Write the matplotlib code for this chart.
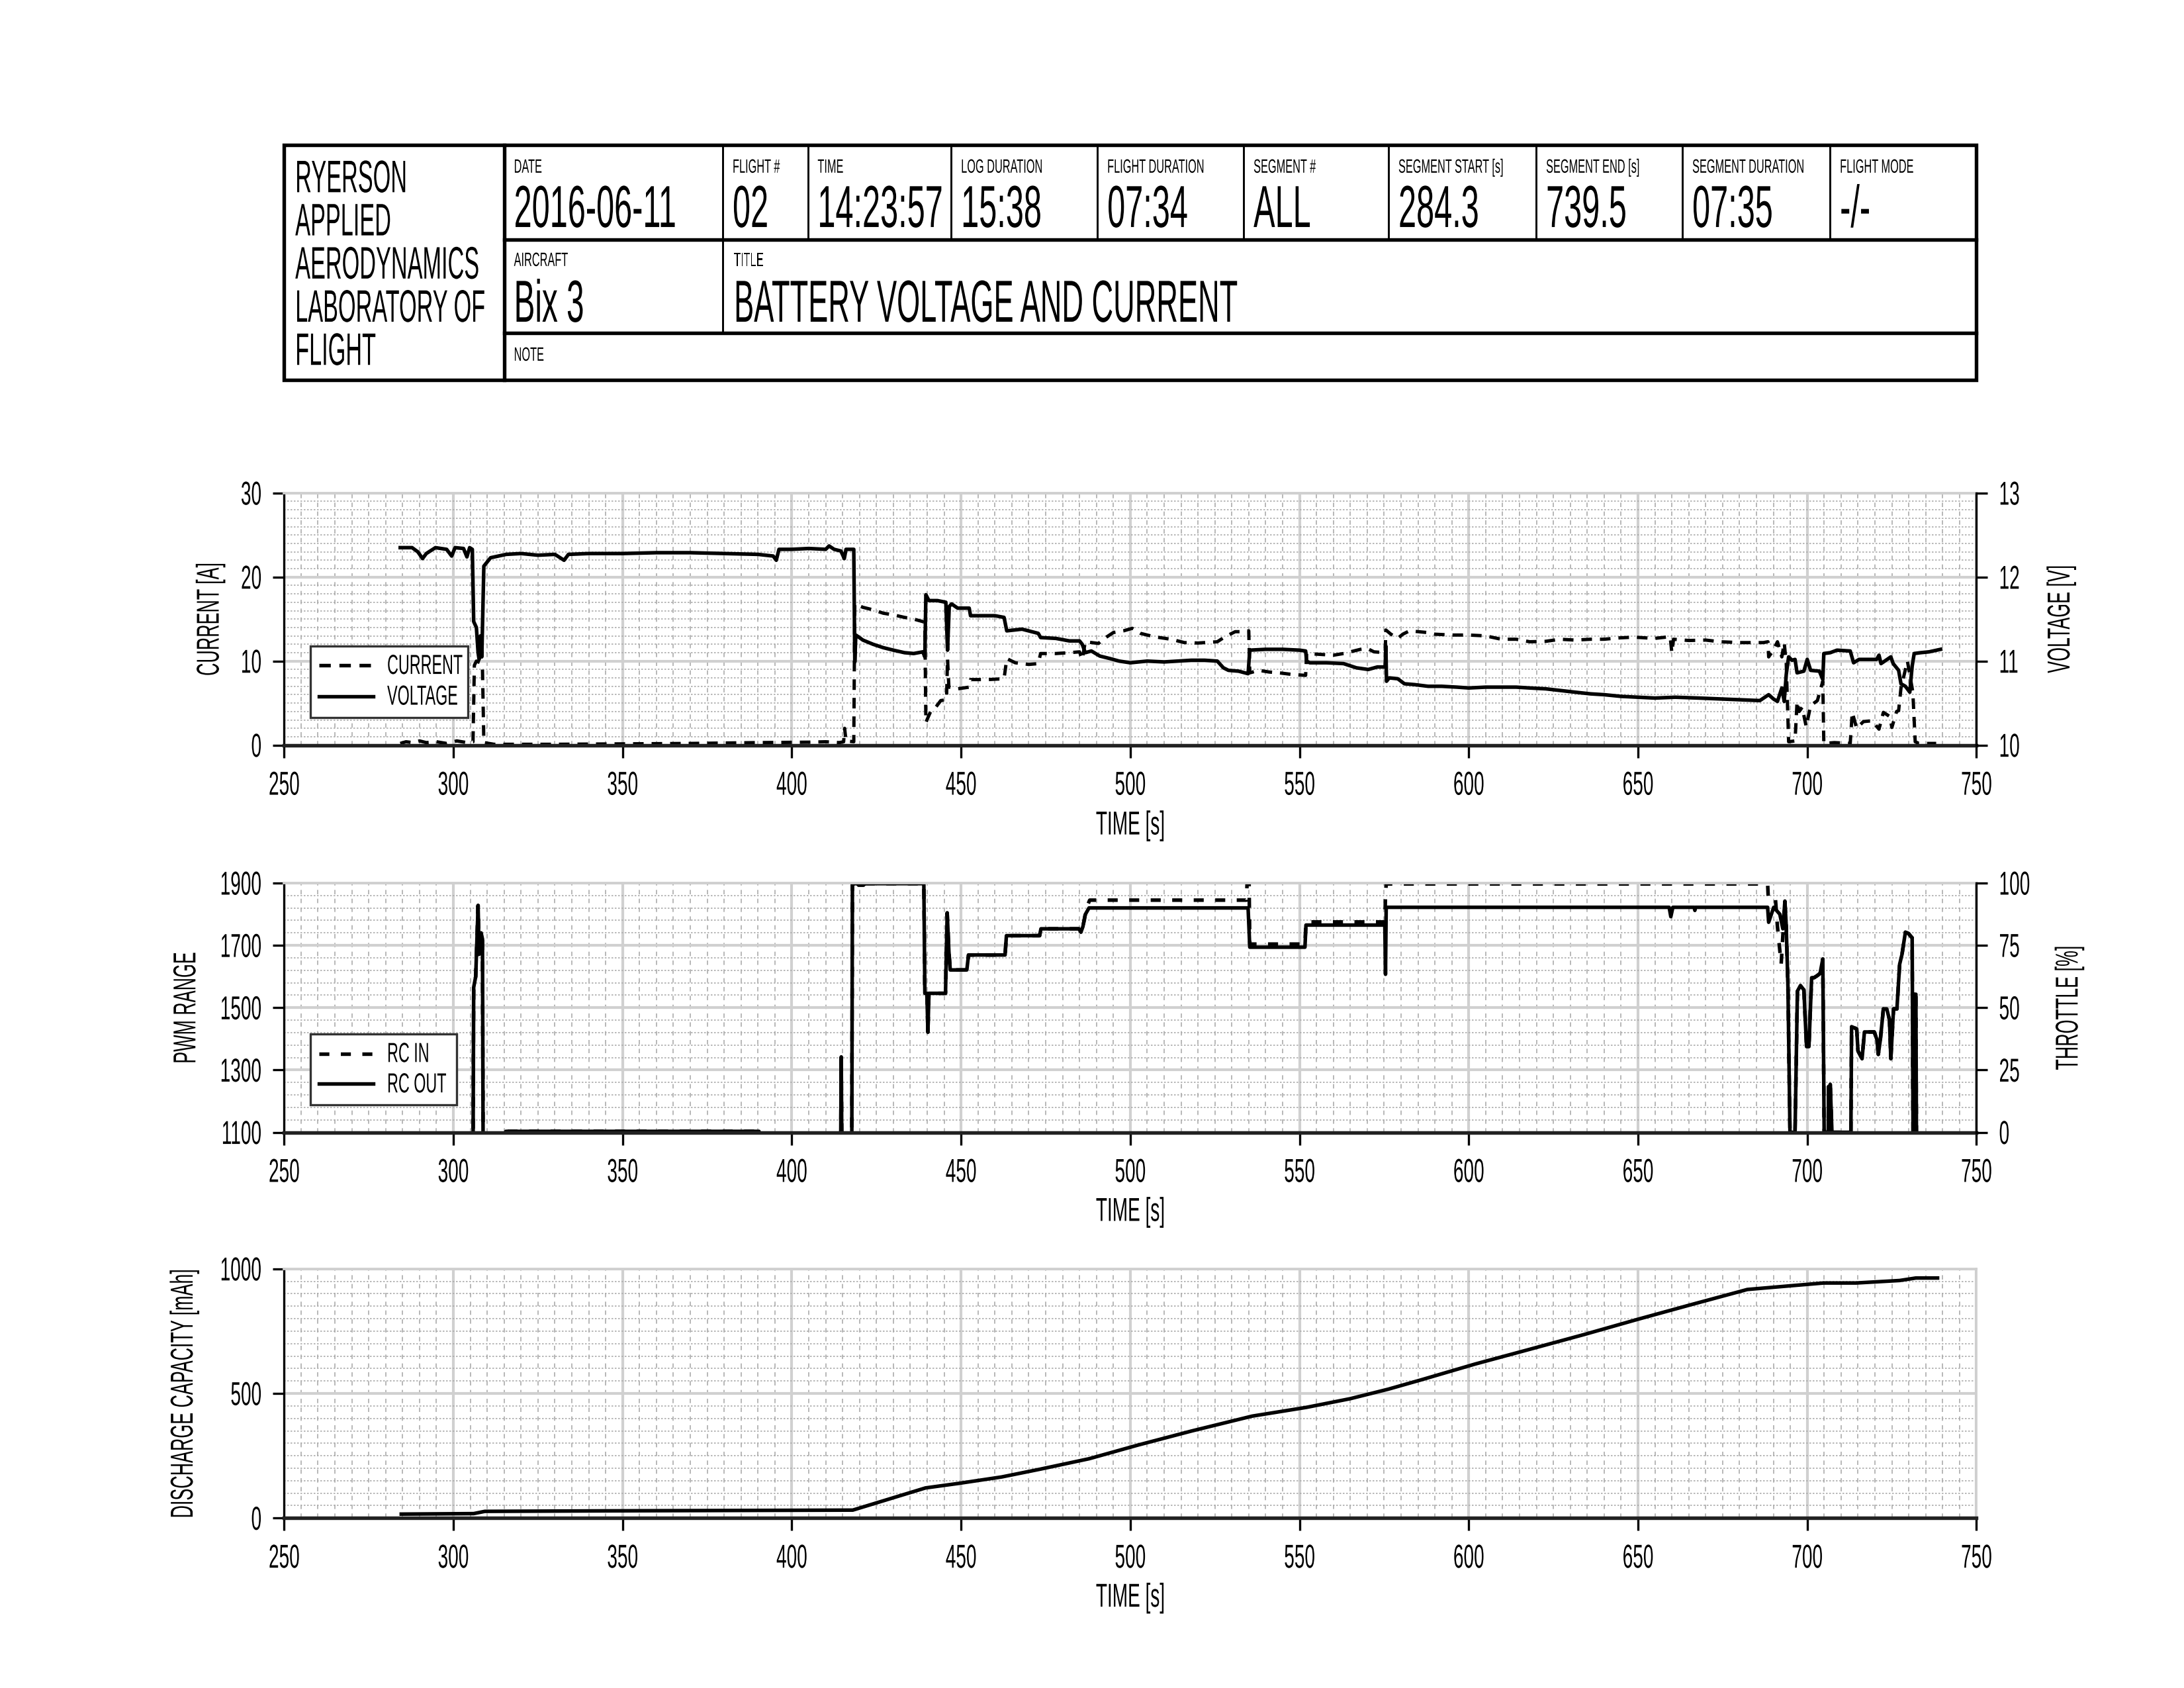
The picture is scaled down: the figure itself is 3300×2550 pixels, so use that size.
import matplotlib
matplotlib.use('Agg')
import numpy as np
import matplotlib.pyplot as plt
from matplotlib import font_manager, patheffects
from matplotlib.patches import Rectangle
from matplotlib.lines import Line2D
from matplotlib.transforms import Affine2D
from matplotlib.ticker import MultipleLocator

# title block
lab_lines = ['RYERSON', 'APPLIED', 'AERODYNAMICS', 'LABORATORY OF', 'FLIGHT']
field_labels = ['DATE', 'FLIGHT #', 'TIME', 'LOG DURATION', 'FLIGHT DURATION', 'SEGMENT #',
                'SEGMENT START [s]', 'SEGMENT END [s]', 'SEGMENT DURATION', 'FLIGHT MODE']
field_values = ['2016-06-11', '02', '14:23:57', '15:38', '07:34', 'ALL', '284.3', '739.5', '07:35', '-/-']
aircraft = 'Bix 3'
chart_title = 'BATTERY VOLTAGE AND CURRENT'

# battery voltage [V] vs time [s]
voltage = [(284.3, 12.35), (287.8, 12.35), (289.5, 12.30), (290.9, 12.22), (292.0, 12.28), (294.7, 12.35),
           (298.0, 12.33), (299.5, 12.25), (300.5, 12.35), (303.0, 12.34), (304.0, 12.24), (304.8, 12.35),
           (305.6, 12.33), (306.0, 11.47), (306.8, 11.40), (307.3, 11.10), (307.6, 11.02), (308.0, 11.30),
           (308.4, 11.05), (309.0, 12.13), (311.0, 12.23), (315.6, 12.27), (320.0, 12.28), (325.0, 12.26),
           (330.0, 12.27), (332.7, 12.20), (334.0, 12.27), (340.0, 12.28), (350.0, 12.28), (360.0, 12.29),
           (370.0, 12.29), (380.0, 12.28), (390.0, 12.27), (394.5, 12.25), (395.4, 12.20), (396.2, 12.33),
           (400.0, 12.33), (405.0, 12.34), (410.0, 12.33), (411.0, 12.37), (412.5, 12.33), (414.5, 12.31),
           (415.5, 12.22), (416.0, 12.33), (418.3, 12.33), (418.6, 10.99), (418.9, 11.31), (421.0, 11.25),
           (424.0, 11.20), (427.0, 11.16), (430.0, 11.13), (433.3, 11.10), (436.0, 11.09), (438.7, 11.11),
           (439.3, 11.05), (439.6, 11.79), (440.5, 11.72), (443.0, 11.72), (445.5, 11.70), (446.0, 11.13),
           (446.5, 11.65), (447.2, 11.68), (449.0, 11.63), (452.4, 11.63), (452.8, 11.54), (460.0, 11.54),
           (462.7, 11.52), (463.5, 11.36), (468.0, 11.38), (472.8, 11.33), (473.5, 11.28), (478.0, 11.27),
           (482.0, 11.24), (485.0, 11.24), (485.8, 11.20), (486.7, 11.10), (488.5, 11.12), (491.0, 11.06),
           (494.0, 11.03), (496.7, 11.00), (500.0, 10.98), (505.0, 11.00), (510.0, 10.99), (514.0, 11.00),
           (518.0, 11.01), (522.0, 11.01), (525.7, 11.00), (527.5, 10.92), (529.0, 10.89), (532.0, 10.88),
           (534.8, 10.85), (535.3, 11.13), (540.0, 11.14), (545.0, 11.14), (550.0, 11.13), (551.8, 11.12),
           (552.1, 11.00), (553.0, 10.98), (558.0, 10.98), (563.0, 10.97), (566.8, 10.92), (570.3, 10.90),
           (573.0, 10.93), (575.3, 10.93), (575.5, 11.18), (575.7, 10.76), (576.5, 10.80), (579.0, 10.79),
           (581.0, 10.73), (584.0, 10.72), (588.0, 10.70), (592.0, 10.70), (596.5, 10.69), (600.0, 10.68),
           (605.0, 10.69), (610.0, 10.69), (614.0, 10.69), (618.0, 10.68), (622.7, 10.67), (627.0, 10.65),
           (631.4, 10.63), (636.0, 10.61), (640.0, 10.60), (645.0, 10.58), (650.0, 10.57), (655.0, 10.56),
           (661.0, 10.57), (668.0, 10.56), (674.0, 10.55), (680.0, 10.54), (686.0, 10.53), (688.6, 10.60),
           (690.0, 10.55), (691.2, 10.52), (692.5, 10.68), (693.2, 10.52), (693.8, 10.84), (694.5, 11.05),
           (695.5, 11.01), (696.4, 11.02), (697.0, 10.86), (699.0, 10.88), (700.0, 11.02), (701.0, 10.89),
           (703.6, 10.88), (704.6, 10.78), (704.9, 11.09), (706.8, 11.10), (708.8, 11.13), (712.7, 11.12),
           (713.7, 10.98), (715.3, 11.02), (720.5, 11.02), (721.2, 11.07), (721.8, 10.97), (724.7, 11.05),
           (725.4, 10.97), (727.0, 10.89), (727.7, 10.73), (729.0, 10.70), (730.3, 10.63), (731.0, 10.94),
           (731.6, 11.09), (733.5, 11.10), (736.0, 11.11), (739.4, 11.14)]

# battery current [A] vs time [s]
current = [(284.3, 0.2), (286.0, 0.4), (288.0, 0.3), (290.0, 0.5), (292.0, 0.3), (295.0, 0.4), (298.0, 0.2),
           (301.0, 0.5), (304.0, 0.3), (305.8, 0.4), (306.2, 9.5), (306.8, 10.0), (308.0, 9.8), (308.6, 9.0),
           (309.0, 0.3), (312.0, 0.1), (330.0, 0.1), (350.0, 0.15), (370.0, 0.2), (390.0, 0.3), (405.0, 0.35),
           (410.0, 0.4), (414.0, 0.3), (415.3, 0.4), (415.6, 2.0), (416.0, 0.5), (418.3, 0.4), (418.6, 16.8),
           (421.0, 16.4), (424.0, 16.1), (427.0, 15.7), (430.0, 15.5), (433.3, 15.2), (436.0, 15.0),
           (438.7, 14.7), (439.3, 14.6), (439.6, 2.7), (441.0, 4.0), (442.5, 4.5), (444.0, 5.3), (445.7, 5.4),
           (446.0, 10.3), (446.4, 6.9), (449.0, 6.7), (452.4, 6.9), (452.8, 7.8), (458.0, 7.8), (462.7, 7.9),
           (463.5, 10.3), (466.0, 9.8), (470.0, 9.6), (472.8, 9.7), (473.5, 10.9), (478.0, 10.9), (482.0, 11.0),
           (485.0, 11.1), (485.8, 10.2), (486.7, 12.3), (490.6, 12.1), (492.0, 12.6), (495.0, 13.4),
           (498.0, 13.6), (500.6, 13.9), (503.0, 13.3), (507.0, 12.9), (512.0, 12.6), (516.0, 12.2),
           (520.0, 12.15), (525.7, 12.3), (528.0, 12.9), (531.0, 13.5), (534.0, 13.5), (535.0, 13.6),
           (535.3, 8.6), (538.0, 8.9), (541.0, 8.7), (544.0, 8.6), (548.0, 8.4), (551.8, 8.3), (552.1, 10.9),
           (556.0, 10.8), (560.0, 10.7), (563.0, 10.9), (566.0, 11.2), (568.0, 11.4), (570.0, 11.5),
           (572.0, 11.1), (575.3, 11.0), (575.5, 13.7), (577.0, 13.2), (579.0, 12.7), (580.5, 13.2),
           (582.5, 13.6), (585.0, 13.5), (587.7, 13.4), (590.0, 13.2), (595.0, 13.1), (600.0, 13.1),
           (605.0, 13.0), (609.6, 12.6), (614.0, 12.6), (618.0, 12.3), (622.7, 12.35), (627.0, 12.6),
           (631.4, 12.5), (636.0, 12.6), (640.0, 12.6), (644.0, 12.75), (648.8, 12.85), (654.8, 12.7),
           (659.5, 12.9), (660.0, 11.0), (660.5, 12.6), (665.0, 12.45), (670.0, 12.5), (674.3, 12.3),
           (680.0, 12.2), (687.0, 12.2), (688.4, 12.3), (688.6, 10.5), (690.0, 11.3), (691.2, 12.3),
           (692.5, 10.5), (693.2, 12.2), (693.8, 9.7), (694.5, 0.4), (696.4, 0.5), (697.0, 5.2), (697.6, 4.0),
           (698.5, 4.5), (699.7, 2.2), (701.0, 4.7), (703.0, 5.3), (704.6, 7.6), (704.9, 0.2), (708.0, 0.3),
           (712.7, 0.2), (713.3, 3.9), (714.6, 2.0), (716.6, 2.8), (719.2, 2.9), (721.2, 1.9), (722.5, 3.9),
           (724.4, 3.4), (725.0, 2.1), (726.4, 4.0), (727.0, 4.1), (727.7, 6.8), (729.6, 10.0), (731.2, 6.3),
           (731.9, 0.4), (733.0, 0.2), (738.1, 0.2)]

# RC output PWM vs time [s] (values below 1100 are off the chart)
rc_out = [(284.3, 1000), (305.8, 1000), (306.0, 1565), (306.6, 1600), (307.3, 1828), (307.6, 1671),
          (308.2, 1740), (308.6, 1720), (308.8, 1000), (315.4, 1000), (315.5, 1103), (390.3, 1103),
          (390.4, 1000), (414.4, 1000), (414.6, 1342), (414.8, 1000), (417.7, 1000), (417.9, 1898),
          (419.5, 1898), (419.7, 1893), (421.2, 1893), (421.4, 1898), (439.0, 1898), (439.3, 1546),
          (439.9, 1546), (440.2, 1421), (440.5, 1546), (445.4, 1546), (445.9, 1804), (446.4, 1680),
          (446.8, 1621), (451.7, 1621), (452.2, 1669), (463.0, 1669), (463.4, 1731), (473.2, 1731),
          (473.6, 1753), (484.8, 1753), (485.4, 1742), (486.0, 1760), (486.7, 1799), (487.8, 1820),
          (534.8, 1820), (535.3, 1694), (551.6, 1694), (551.9, 1765), (575.2, 1765), (575.4, 1607),
          (575.6, 1822), (659.2, 1822), (659.7, 1792), (660.3, 1822), (666.6, 1822), (666.8, 1812),
          (667.0, 1822), (688.3, 1822), (688.6, 1774), (690.1, 1822), (691.9, 1800), (692.8, 1753),
          (693.4, 1842), (693.8, 1760), (694.3, 1568), (694.9, 1100), (696.4, 1100), (697.1, 1553),
          (698.0, 1571), (699.0, 1557), (699.8, 1375), (700.5, 1375), (701.3, 1596), (702.0, 1596),
          (703.0, 1603), (703.8, 1610), (704.6, 1656), (705.0, 1100), (706.2, 1100), (706.3, 1247),
          (706.6, 1100), (706.8, 1254), (707.3, 1100), (712.9, 1100), (713.1, 1439), (714.6, 1432),
          (715.0, 1361), (716.2, 1336), (716.9, 1422), (719.8, 1422), (720.6, 1397), (721.0, 1350),
          (721.6, 1397), (722.5, 1496), (723.5, 1496), (724.3, 1461), (724.7, 1336), (725.5, 1496),
          (726.5, 1496), (727.3, 1639), (728.0, 1671), (729.0, 1742), (729.9, 1738), (731.0, 1724),
          (731.3, 1000), (731.6, 1000), (731.7, 1543), (732.1, 1543), (732.3, 1000), (739.5, 1000)]

# RC input PWM where it departs from the output
rc_in_diff = [(486.7, 1799), (487.5, 1832), (488.0, 1845), (534.3, 1845), (534.5, 1899), (535.1, 1899),
              (535.3, 1704), (551.6, 1704), (551.9, 1775), (575.2, 1775), (575.4, 1860), (575.6, 1897),
              (688.3, 1897), (688.5, 1850), (690.6, 1850), (691.2, 1760), (692.3, 1640)]

# discharged capacity [mAh]
discharge = [(284.6, 16), (306.0, 18), (309.3, 27), (344.7, 29), (418.0, 32), (439.5, 121), (449.2, 139),
             (462.0, 165), (473.3, 196), (487.8, 238), (502.3, 293), (518.3, 350), (536.0, 409), (552.0, 444),
             (565.0, 479), (576.2, 517), (585.8, 554), (601.9, 618), (618.0, 677), (634.0, 736), (650.1, 798),
             (666.2, 858), (682.3, 917), (693.5, 930), (704.8, 943), (714.4, 943), (727.3, 953), (732.1, 963),
             (738.5, 963)]


def pick_font():
    for name, sx in [('Liberation Sans Narrow', 0.68), ('Liberation Sans', 0.56)]:
        try:
            font_manager.findfont(font_manager.FontProperties(family=name), fallback_to_default=False)
            return name, sx
        except ValueError:
            pass
    return 'DejaVu Sans', 0.5


FONT, SX = pick_font()
plt.rcParams['font.family'] = [FONT, 'DejaVu Sans']


class Tall(patheffects.AbstractPathEffect):
    """stretch glyphs along their height; the sheet uses a tall, narrow typeface"""
    def __init__(self, sy, anchor='baseline'):
        super().__init__()
        self.sy = sy
        self.anchor = anchor

    def draw_path(self, renderer, gc, tpath, affine, rgbFace=None):
        ext = tpath.get_extents()
        cy = {'baseline': 0.0, 'bottom': ext.y0, 'center': 0.5 * (ext.y0 + ext.y1), 'top': ext.y1}[self.anchor]
        st = Affine2D().translate(0, -cy).scale(1.0, self.sy).translate(0, cy)
        renderer.draw_path(gc, tpath, (st + affine).frozen(), rgbFace)


def narrow(size, anchor='baseline', squeeze=1.0):
    # set at the width the type takes on the sheet, drawn at its full height
    k = SX * squeeze
    return size * k, [Tall(1.0 / k, anchor)]


def tall_text(ax, x, y, s, size, squeeze=1.0):
    fs, pe = narrow(size, 'baseline', squeeze)
    return ax.text(x, y, s, fontsize=fs, va='baseline', clip_on=False, path_effects=pe)


W, H = 1568.0, 1212.0   # layout measured on the reference sheet
fig = plt.figure(figsize=(11, 8.5), dpi=300)

# ---------- title block ----------
tb = fig.add_axes([204 / W, 1 - 273 / H, 1215 / W, 169 / H])
tb.set_xlim(204, 1419)
tb.set_ylim(273, 104)
tb.axis('off')
thick, thin = 1.3, 0.7
tb.add_patch(Rectangle((204, 104), 1215, 169, fill=False, lw=thick, edgecolor='k', clip_on=False))
tb.plot([362, 362], [104, 273], color='k', lw=thick, clip_on=False)
tb.plot([362, 1419], [172, 172], color='k', lw=thick, clip_on=False)
tb.plot([362, 1419], [239, 239], color='k', lw=thick, clip_on=False)
cell_left = [362, 519, 580, 683, 788, 893, 997, 1103, 1208, 1314]
for x in cell_left[1:]:
    tb.plot([x, x], [104, 172], color='k', lw=thin, clip_on=False)
tb.plot([519, 519], [172, 239], color='k', lw=thin, clip_on=False)

for i, line in enumerate(lab_lines):
    tall_text(tb, 212, 138 + 31 * i, line, 16.5, 0.89)
for x, lab, val in zip(cell_left, field_labels, field_values):
    tall_text(tb, x + 7, 124, lab, 7)
    tall_text(tb, x + 7, 163, val, 21.5, 0.97)
tall_text(tb, 369, 191, 'AIRCRAFT', 7)
tall_text(tb, 369, 231, aircraft, 21.5, 0.95)
tall_text(tb, 527, 191, 'TITLE', 7)
tall_text(tb, 527, 231, chart_title, 21.5, 0.9)
tall_text(tb, 369, 259, 'NOTE', 7)

TICK_FS, TICK_TOP = narrow(12, 'top')
_, TICK_MID = narrow(12, 'center')


# ---------- charts ----------
def chart(top, bottom, ylim, ymaj, ymin, yoff=0.0):
    ax = fig.add_axes([204 / W, 1 - bottom / H, 1215 / W, (bottom - top) / H])
    ax.set_xlim(250, 750)
    ax.set_ylim(*ylim)
    ax.xaxis.set_major_locator(MultipleLocator(50))
    ax.xaxis.set_minor_locator(MultipleLocator(5))
    ax.yaxis.set_major_locator(MultipleLocator(ymaj, offset=yoff))
    ax.yaxis.set_minor_locator(MultipleLocator(ymin, offset=yoff % ymin))
    ax.set_axisbelow(True)
    ax.grid(which='major', color='#d0d0d0', lw=1.0, ls='-')
    ax.grid(which='minor', axis='x', color='#ababab', lw=0.4, ls=(0, (4, 4)))
    ax.grid(which='minor', axis='y', color='#ababab', lw=0.4, ls=(0, (1.5, 1.5)))
    ax.tick_params(which='minor', length=0)
    ax.tick_params(axis='x', which='major', direction='out', length=4.5, width=0.8, pad=5, labelsize=TICK_FS)
    ax.tick_params(axis='y', which='major', direction='out', length=4, width=0.8, pad=4.2, labelsize=TICK_FS)
    ax.spines['top'].set(color='#cfcfcf', lw=0.9)
    ax.spines['right'].set(color='#cfcfcf', lw=0.9)
    ax.spines['left'].set(color='k', lw=0.8)
    ax.spines['bottom'].set(color='#222222', lw=1.3)
    fs, pe = narrow(12, 'top')
    ax.set_xlabel('TIME [s]', fontsize=fs)
    ax.xaxis.label.set_path_effects(pe)
    ax.xaxis.set_label_coords(0.5, -0.26)
    for t in ax.xaxis.get_major_ticks():
        t.label1.set_path_effects(TICK_TOP)
    for t in ax.yaxis.get_major_ticks():
        t.label1.set_path_effects(TICK_MID)
    return ax


def left_label(ax, label, xpos):
    fs, pe = narrow(11.5, 'bottom')
    ax.set_ylabel(label, fontsize=fs)
    ax.yaxis.label.set_path_effects(pe)
    ax.yaxis.set_label_coords(xpos, 0.5)


def right_axis(ax, ylim, step, label, xpos):
    tw = ax.twinx()
    tw.set_ylim(*ylim)
    tw.yaxis.set_major_locator(MultipleLocator(step))
    tw.tick_params(axis='y', which='major', direction='out', length=4, width=0.8, pad=4.2, labelsize=TICK_FS)
    for s in ['top', 'bottom', 'left']:
        tw.spines[s].set_visible(False)
    tw.spines['right'].set(color='k', lw=0.8)
    fs, pe = narrow(11.5, 'top')
    tw.set_ylabel(label, fontsize=fs)
    tw.yaxis.label.set_path_effects(pe)
    tw.yaxis.set_label_coords(xpos, 0.5)
    for t in tw.yaxis.get_major_ticks():
        t.label2.set_path_effects(TICK_MID)
    return tw


def box_legend(ax, x1, rows):
    ax.add_patch(Rectangle((0.0156, 0.11), x1 - 0.0156, 0.284, transform=ax.transAxes,
                           facecolor='white', edgecolor='#333333', lw=0.8, zorder=10))
    fs, pe = narrow(10, 'center')
    for y, label, ls in rows:
        ax.add_line(Line2D([0.0206, 0.0527], [y, y], transform=ax.transAxes, color='k', lw=1.3,
                           ls=ls, zorder=11))
        ax.text(0.0609, y, label, transform=ax.transAxes, fontsize=fs, va='center', zorder=11,
                path_effects=pe)


CUR_LS = (0, (3.2, 2.4))
IN_LS = (0, (2.8, 3.2))

# battery voltage and current
volt_t, volt_v = np.array(voltage).T
curr_t, curr_a = np.array(current).T
ax1 = chart(354, 535, (0, 30), 10, 1)
ax1.plot(curr_t, curr_a, color='k', lw=1.2, ls=CUR_LS)
left_label(ax1, 'CURRENT [A]', -0.0346)
ax1r = right_axis(ax1, (10, 13), 1, 'VOLTAGE [V]', 1.0412)
ax1r.plot(volt_t, volt_v, color='k', lw=1.3)
box_legend(ax1r, 0.1086, [(0.316, 'CURRENT', CUR_LS), (0.194, 'VOLTAGE', '-')])

# rc pwm / throttle
out_t, out_v = np.array(rc_out, dtype=float).T
dif_t, dif_v = np.array(rc_in_diff, dtype=float).T
pre = out_t < dif_t[0]
post = out_t > 693.0
in_t = np.concatenate([out_t[pre], dif_t, out_t[post]])
in_v = np.concatenate([out_v[pre], dif_v, out_v[post]])
ax2 = chart(634, 813, (1100, 1900), 200, 40, yoff=100)
ax2.plot(in_t, in_v, color='k', lw=1.3, ls=IN_LS)
ax2.plot(out_t, out_v, color='k', lw=1.3)
left_label(ax2, 'PWM RANGE', -0.05)
ax2r = right_axis(ax2, (0, 100), 25, 'THROTTLE [%]', 1.046)
box_legend(ax2r, 0.102, [(0.316, 'RC IN', IN_LS), (0.194, 'RC OUT', '-')])

# discharge capacity
cap_t, cap_v = np.array(discharge, dtype=float).T
ax3 = chart(911, 1090, (0, 1000), 500, 50)
ax3.plot(cap_t, cap_v, color='k', lw=1.3)
left_label(ax3, 'DISCHARGE CAPACITY [mAh]', -0.05)

fig.savefig('out.png', dpi=300)
